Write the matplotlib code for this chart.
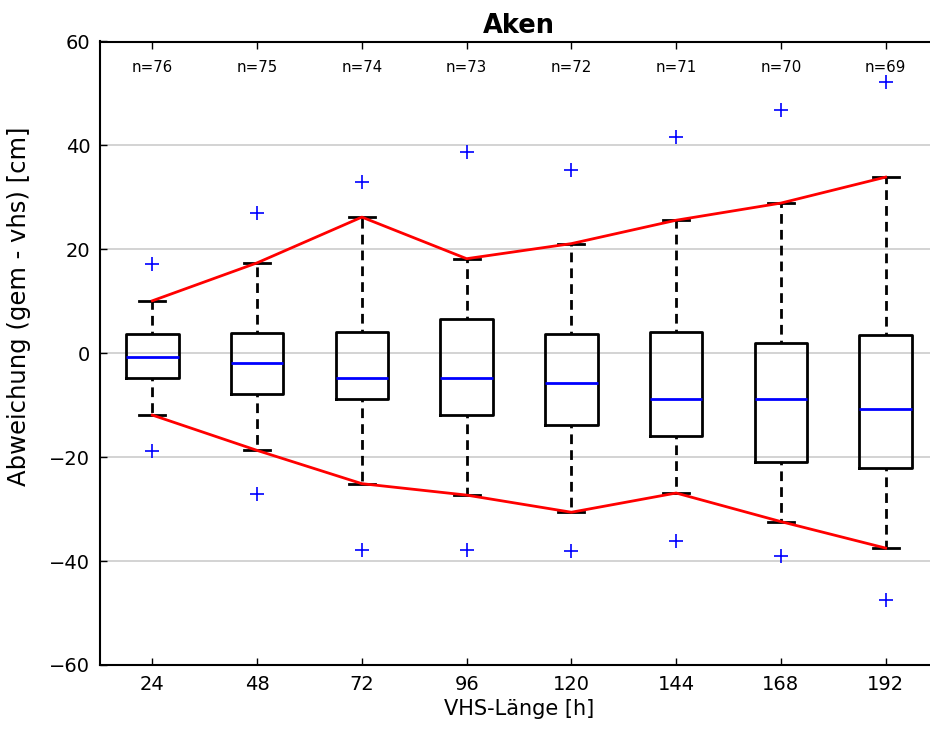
import matplotlib
matplotlib.use("Agg")
import matplotlib.pyplot as plt
import numpy as np

hours = [24, 48, 72, 96, 120, 144, 168, 192]
n_counts = [76, 75, 74, 73, 72, 71, 70, 69]
medians = [-0.8, -1.9, -4.7, -4.7, -5.7, -8.8, -8.8, -10.8]
q1 = [-4.7, -7.8, -8.8, -11.9, -13.9, -16.0, -21.0, -22.0]
q3 = [3.7, 3.9, 4.1, 6.5, 3.7, 4.1, 2.0, 3.5]
whisker_low = [-11.9, -18.7, -25.1, -27.3, -30.6, -26.9, -32.4, -37.5]
whisker_high = [10.1, 17.4, 26.2, 18.2, 21.1, 25.6, 28.9, 33.9]
flier_high = [17.2, 27.0, 32.9, 38.8, 35.3, 41.6, 46.9, 52.2]
flier_low = [-18.8, -27.0, -37.9, -37.9, -38.1, -36.1, -39.0, -47.4]

W, H = 930, 733
fig = plt.figure(figsize=(W / 100, H / 100), dpi=100)
left, right, top, bottom = 100, 938, 41.5, 665
ax = fig.add_axes([left / W, 1 - bottom / H, (right - left) / W, (bottom - top) / H])

positions = np.arange(1, len(hours) + 1)
stats = []
for i in range(len(hours)):
    stats.append(dict(med=medians[i], q1=q1[i], q3=q3[i],
                      whislo=whisker_low[i], whishi=whisker_high[i],
                      fliers=[flier_high[i], flier_low[i]], label=str(hours[i])))

ax.bxp(stats, positions=positions, widths=0.5, showfliers=True,
       boxprops=dict(color='black', linewidth=2),
       whiskerprops=dict(color='black', linewidth=2, linestyle=(2.5, (3.5, 2.2))),
       capprops=dict(color='black', linewidth=2),
       medianprops=dict(color='blue', linewidth=2),
       flierprops=dict(marker='+', markeredgecolor='blue', markersize=10,
                       markeredgewidth=1.2, linestyle='none'),
       manage_ticks=False, zorder=3)

ax.plot(positions, whisker_high, color='red', linewidth=2, zorder=4)
ax.plot(positions, whisker_low, color='red', linewidth=2, zorder=4)

for p, n in zip(positions, n_counts):
    ax.text(p, 55, f"n={n}", ha='center', va='center', fontsize=10.8)

ax.set_xlim(0.5, 8.5)
ax.set_ylim(-60, 60)
ax.set_xticks(positions)
ax.set_xticklabels([str(h) for h in hours])
ax.set_yticks(np.arange(-60, 61, 20))
ax.yaxis.grid(True, color='#d0d0d0', linewidth=1.3, zorder=0)
ax.set_axisbelow(True)
ax.tick_params(axis='both', direction='in', length=5, width=1, labelsize=14,
               top=True, right=True, pad=7)
for s in ax.spines.values():
    s.set_linewidth(1.5)

ax.set_title("Aken", fontsize=18.5, fontweight='bold', pad=6)
ax.set_xlabel("VHS-Länge [h]", fontsize=15, labelpad=4)
ax.set_ylabel("Abweichung (gem - vhs) [cm]", fontsize=17.5)
ax.yaxis.set_label_coords((31 - left) / (right - left), (bottom - 306) / (bottom - top))

fig.savefig("out.png", dpi=100)
